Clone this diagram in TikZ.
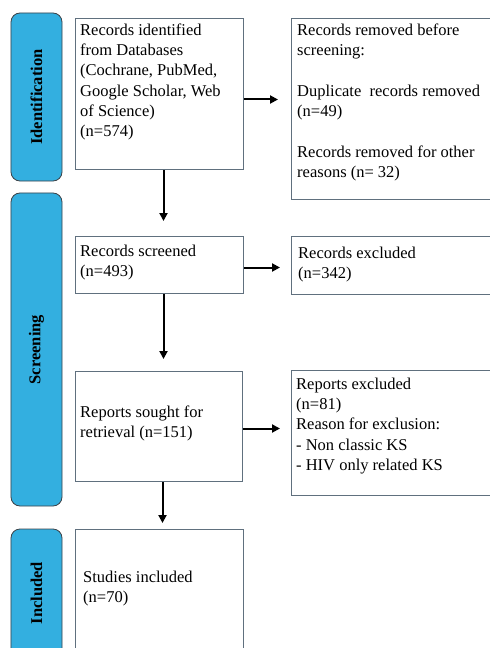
\documentclass[tikz,border=0pt]{standalone}
\usepackage{fontspec}
\setmainfont{Liberation Serif}
\usetikzlibrary{positioning}
\usetikzlibrary{arrows.meta}

\definecolor{phaseblue}{RGB}{51,175,224}
\definecolor{phaseline}{RGB}{60,66,72}
\definecolor{boxline}{RGB}{96,112,126}

\begin{document}
\begin{tikzpicture}[x=1bp, y=-1bp]
    \tikzset{
    phase/.style=
    {
        rectangle,
        rounded corners=9bp,
        draw=phaseline,
        line width=0.8bp,
        fill=phaseblue,
        rotate=90,
        minimum height=51bp,
        inner sep=0pt,
        font=\fontsize{16.5bp}{20bp}\selectfont\bfseries
    },
    stage/.style=
    {
        rectangle,
        draw=boxline,
        line width=1bp,
        anchor=north west,
        inner sep=0pt
    },
    words/.style=
    {
        anchor=north west,
        align=left,
        inner sep=0pt,
        font=\fontsize{16.5bp}{20.3bp}\selectfont
    },
    flow/.style=
    {
        line width=2bp,
        -{Triangle[length=8bp,width=8bp]}
    }
}
  \useasboundingbox (0,0) rectangle (490,648);

  % phases on the left
  \node[phase, minimum width=168bp] (idphase) at (36.5,97) {Identification};
  \node[phase, minimum width=313bp] (scphase) at (36.5,349.5) {Screening};
  \node[phase, minimum width=128bp] (inphase) at (36.5,593) {Included};

  % boxes
  \node[stage, minimum width=168bp, minimum height=151bp] (records) at (75,18) {};
  \node[stage, minimum width=204bp, minimum height=181bp] (removed) at (291,18) {};
  \node[stage, minimum width=168bp, minimum height=57bp] (screened) at (75,236) {};
  \node[stage, minimum width=204bp, minimum height=58bp] (excluded) at (291,236) {};
  \node[stage, minimum width=167bp, minimum height=110bp] (sought) at (75,371) {};
  \node[stage, minimum width=204bp, minimum height=125bp] (repexcl) at (291,370) {};
  \node[stage, minimum width=168bp, minimum height=128bp] (studies) at (75,529) {};

  % texts
  \node[words] (recordstext) at ([xshift=5bp,yshift=-5.5bp]records.north west)
    {Records identified\\from Databases\\(Cochrane, PubMed,\\Google Scholar, Web\\of Science)\\(n=574)};
  \node[words] (removedtext) at ([xshift=6bp,yshift=-5.5bp]removed.north west)
    {Records removed before\\screening:\\[20.5bp]Duplicate\ \ records removed\\(n=49)\\[20.5bp]Records removed for other\\reasons (n= 32)};
  \node[words] (screenedtext) at ([xshift=5bp,yshift=-8.5bp]screened.north west)
    {Records screened\\(n=493)};
  \node[words] (excludedtext) at ([xshift=7bp,yshift=-10.5bp]excluded.north west)
    {Records excluded\\(n=342)};
  \node[words] (soughttext) at ([xshift=5bp,yshift=-34.5bp]sought.north west)
    {Reports sought for\\retrieval (n=151)};
  \node[words] (repexcltext) at ([xshift=5bp,yshift=-7.5bp]repexcl.north west)
    {Reports excluded\\(n=81)\\Reason for exclusion:\\- Non classic KS\\- HIV only related KS};
  \node[words] (studiestext) at ([xshift=8bp,yshift=-41.5bp]studies.north west)
    {Studies included\\(n=70)};

  % arrows
  \draw[flow, shorten >=13bp] ([yshift=-5.5bp]records.east) -- ([yshift=-5.5bp]records.east -| removed.west);
  \draw[flow, shorten >=15bp] ([xshift=4bp]records.south) -- ([xshift=4bp]screened.north);
  \draw[flow, shorten >=11bp] ([yshift=-2.5bp]screened.east) -- ([yshift=-2.5bp]screened.east -| excluded.west);
  \draw[flow, shorten >=12bp] ([xshift=4bp]screened.south) -- ([xshift=4bp]screened.south |- sought.north);
  \draw[flow, shorten >=11bp] ([yshift=-2bp]sought.east) -- ([yshift=-2bp]sought.east -| repexcl.west);
  \draw[flow, shorten >=6bp] ([xshift=3.5bp]sought.south) -- ([xshift=3.5bp]sought.south |- studies.north);

\end{tikzpicture}
\end{document}
